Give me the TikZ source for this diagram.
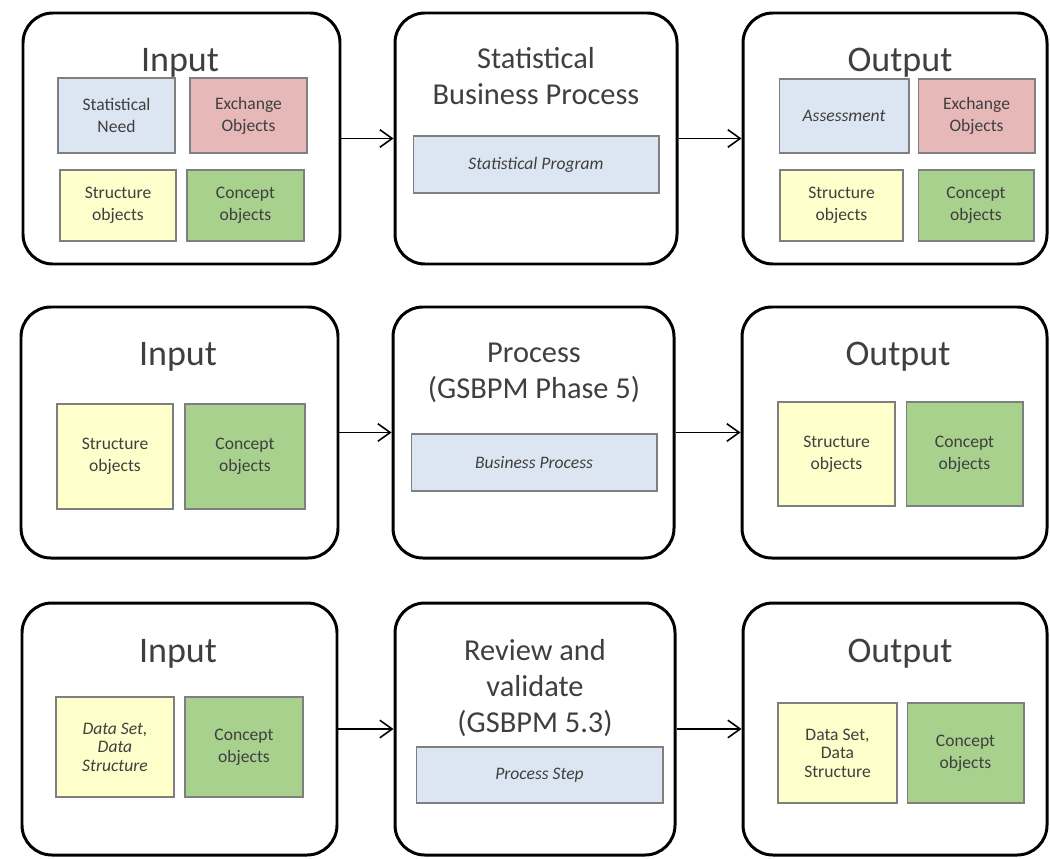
\documentclass[tikz,border=0pt]{standalone}
\usepackage{fontspec}
\setmainfont{Carlito}
\usetikzlibrary{fit,arrows.meta}
\definecolor{needblue}{HTML}{DCE6F2}
\definecolor{exchred}{HTML}{E6B9B8}
\definecolor{structyellow}{HTML}{FFFFCC}
\definecolor{conceptgreen}{HTML}{A9D18E}
\definecolor{edgegray}{HTML}{7F7F7F}
\definecolor{inktext}{HTML}{3F3F3F}
\begin{document}
\begin{tikzpicture}[x=0.02cm,y=-0.02cm,
    stage/.style={draw=black,line width=1.7pt,rounded corners=17pt,inner sep=0pt},
    heading/.style={text=inktext,align=center,font=\fontsize{17.3}{20.5}\selectfont},
    sidehead/.style={heading,anchor=base,font=\fontsize{20.5}{24}\selectfont},
    objbox/.style={draw=edgegray,line width=0.6pt,inner sep=0pt,align=center,
      text=inktext,font=\fontsize{10}{12.5}\selectfont},
    flow/.style={-{Straight Barb[length=7pt,width=10pt]},line width=0.9pt}]
  \useasboundingbox (0,0) rectangle (1050,858);
  % row 1
  \node[stage,fit={(23,13)(340,264)}] (in1) {};
  \node[sidehead] (in1h) at (180,72) {Input};
  \node[objbox,fill=needblue,minimum width=2.34cm,minimum height=1.5cm] (need1) at (116.5,115.5) {Statistical\\Need};
  \node[objbox,fill=exchred,minimum width=2.34cm,minimum height=1.5cm] (exch1) at (248.5,115.5) {Exchange\\Objects};
  \node[objbox,fill=structyellow,minimum width=2.32cm,minimum height=1.42cm] (struct1) at (118,205.5) {Structure\\objects};
  \node[objbox,fill=conceptgreen,minimum width=2.34cm,minimum height=1.42cm] (concept1) at (245.5,205.5) {Concept\\objects};
  \node[stage,fit={(395,13)(677,264)}] (mid1) {};
  \node[heading] (mid1h) at (536,76) {Statistical\\Business Process};
  \node[objbox,fill=needblue,minimum width=4.92cm,minimum height=1.14cm] (prog1) at (536,164.5) {\textit{Statistical Program}};
  \node[stage,fit={(743,13)(1047,264)}] (out1) {};
  \node[sidehead] (out1h) at (900,72) {Output};
  \node[objbox,fill=needblue,minimum width=2.6cm,minimum height=1.48cm] (assess1) at (844,116) {\textit{Assessment}};
  \node[objbox,fill=exchred,minimum width=2.34cm,minimum height=1.48cm] (exch1o) at (976.5,116) {Exchange\\Objects};
  \node[objbox,fill=structyellow,minimum width=2.46cm,minimum height=1.42cm] (struct1o) at (841.5,205.5) {Structure\\objects};
  \node[objbox,fill=conceptgreen,minimum width=2.32cm,minimum height=1.42cm] (concept1o) at (976,205.5) {Concept\\objects};
  % row 2
  \node[stage,fit={(21,307)(338,558)}] (in2) {};
  \node[sidehead] (in2h) at (178,365) {Input};
  \node[objbox,fill=structyellow,minimum width=2.32cm,minimum height=2.1cm] (struct2) at (115,456.5) {Structure\\objects};
  \node[objbox,fill=conceptgreen,minimum width=2.4cm,minimum height=2.1cm] (concept2) at (245,456.5) {Concept\\objects};
  \node[stage,fit={(393,307)(674,558)}] (mid2) {};
  \node[heading] (mid2h) at (534,373) {Process\\(GSBPM Phase 5)};
  \node[objbox,fill=needblue,minimum width=4.92cm,minimum height=1.14cm] (bproc2) at (534,462.5) {\textit{Business Process}};
  \node[stage,fit={(742,307)(1047,558)}] (out2) {};
  \node[sidehead] (out2h) at (898,365) {Output};
  \node[objbox,fill=structyellow,minimum width=2.34cm,minimum height=2.08cm] (struct2o) at (836.5,454) {Structure\\objects};
  \node[objbox,fill=conceptgreen,minimum width=2.34cm,minimum height=2.08cm] (concept2o) at (964.5,454) {Concept\\objects};
  % row 3
  \node[stage,fit={(22,603)(337,855)}] (in3) {};
  \node[sidehead] (in3h) at (178,662) {Input};
  \node[objbox,fill=structyellow,font=\fontsize{10}{10.5}\selectfont,minimum width=2.36cm,minimum height=2cm] (data3) at (115,747) {\textit{Data Set,}\\\textit{Data}\\\textit{Structure}};
  \node[objbox,fill=conceptgreen,minimum width=2.36cm,minimum height=2cm] (concept3) at (244,747) {Concept\\objects};
  \node[stage,fit={(395,603)(675,855)}] (mid3) {};
  \node[heading] (mid3h) at (535,688) {Review and\\validate\\(GSBPM 5.3)};
  \node[objbox,fill=needblue,minimum width=4.94cm,minimum height=1.12cm] (step3) at (539.5,775) {\textit{Process Step}};
  \node[stage,fit={(743,603)(1047,855)}] (out3) {};
  \node[sidehead] (out3h) at (900,662) {Output};
  \node[objbox,fill=structyellow,font=\fontsize{10}{10.5}\selectfont,minimum width=2.38cm,minimum height=2cm] (data3o) at (837.5,753) {Data Set,\\Data\\Structure};
  \node[objbox,fill=conceptgreen,minimum width=2.34cm,minimum height=2cm] (concept3o) at (965.5,753) {Concept\\objects};
  \begin{scope}[flow]
    \draw (in1) -- (mid1);
    \draw (mid1) -- (out1);
    \draw (in2) -- (mid2);
    \draw (mid2) -- (out2);
    \draw (in3) -- (mid3);
    \draw (mid3) -- (out3);
  \end{scope}
\end{tikzpicture}
\end{document}
